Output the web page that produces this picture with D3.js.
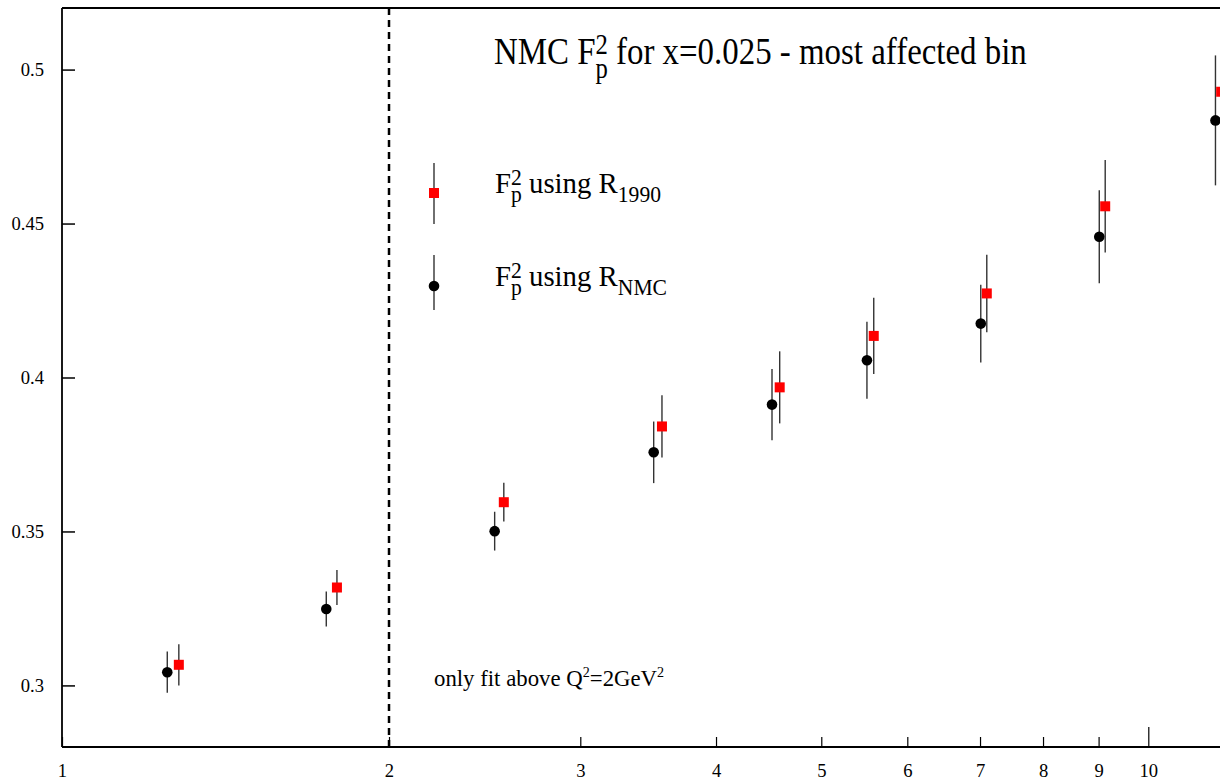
<!DOCTYPE html>
<html>
<head>
<meta charset="utf-8">
<script src="https://cdn.jsdelivr.net/npm/d3@7"></script>
<style>
  body { margin: 0; background: #fff; }
  svg text { font-family: "Liberation Serif", "Times New Roman", serif; fill: #000; white-space: pre; }
</style>
</head>
<body>
<svg id="chart" width="1220" height="780"></svg>
<script>
// NMC F2p at x=0.025, Q^2 in GeV^2
const q2NMC   = [1.250, 1.751, 2.502, 3.505, 4.504, 5.508, 7.011, 9.013, 11.53];
const f2NMC   = [0.3043, 0.3248, 0.3501, 0.3757, 0.3912, 0.4056, 0.4175, 0.4457, 0.4835];
const errNMC  = [0.0067, 0.0057, 0.0063, 0.0100, 0.0116, 0.0125, 0.0126, 0.0151, 0.0211];

const q2R1990  = [1.281, 1.791, 2.551, 3.567, 4.578, 5.588, 7.101, 9.127, 11.67];
const f2R1990  = [0.3067, 0.3318, 0.3595, 0.3841, 0.3968, 0.4135, 0.4273, 0.4556, 0.4928];
const errR1990 = [0.0067, 0.0057, 0.0063, 0.0101, 0.0117, 0.0124, 0.0126, 0.0150, 0.0210];

const xTicks = [1, 2, 3, 4, 5, 6, 7, 8, 9, 10];
const yTicks = [0.3, 0.35, 0.4, 0.45, 0.5];
const cutQ2 = 2;

const mLeft = 62, mTop = 8, mBottom = 747, W = 1220;
const serif = '"Liberation Serif", "Times New Roman", serif';

const svg = d3.select("#chart");

// log scale, 1..10 spans one decade; data runs past the right edge
const x = d3.scaleLog().domain([1, 10]).range([mLeft, 1148.3]);
const y = d3.scaleLinear().domain([0.28, 0.52]).range([mBottom, mTop]);

// frame
svg.append("line").attr("x1", mLeft).attr("x2", W).attr("y1", mTop).attr("y2", mTop)
    .attr("stroke", "#000").attr("stroke-width", 1.8);
svg.append("line").attr("x1", mLeft).attr("x2", W).attr("y1", mBottom).attr("y2", mBottom)
    .attr("stroke", "#000").attr("stroke-width", 1.8);
svg.append("line").attr("x1", mLeft).attr("x2", mLeft).attr("y1", mTop).attr("y2", mBottom)
    .attr("stroke", "#000").attr("stroke-width", 1.8);

// y axis, ticks pointing in
const yAxis = svg.append("g").attr("transform", `translate(${mLeft},0)`)
    .call(d3.axisLeft(y).tickValues(yTicks).tickFormat(d3.format("")).tickSizeInner(-13).tickSizeOuter(0).tickPadding(18));
yAxis.attr("font-family", serif);
yAxis.select(".domain").remove();
yAxis.selectAll(".tick line").attr("stroke", "#000").attr("stroke-width", 1.5);
yAxis.selectAll(".tick text").attr("font-size", 18.6).style("font-family", serif);

// x axis
const xAxis = svg.append("g").attr("transform", `translate(0,${mBottom})`)
    .call(d3.axisBottom(x).tickValues(xTicks).tickFormat(d3.format("d")).tickSizeInner(-10).tickSizeOuter(0));
xAxis.attr("font-family", serif);
xAxis.select(".domain").remove();
xAxis.selectAll(".tick line").attr("stroke", "#000").attr("stroke-width", 1.2)
    .attr("y2", d => d === 10 ? -20 : -10);
xAxis.selectAll(".tick text").attr("font-size", 18.6).style("font-family", serif)
    .attr("y", 30).attr("dy", null);

// Q^2 = 2 cut
svg.append("line").attr("x1", x(cutQ2)).attr("x2", x(cutQ2)).attr("y1", mTop).attr("y2", mBottom)
    .attr("stroke", "#000").attr("stroke-width", 2.5).attr("stroke-dasharray", "7,5");

// one text element, sub/superscripts stacked with tspans
function richText(sel, x0, y0, size, parts, sx, supDy, subDy, small) {
    const t = sel.append("text")
        .attr("transform", `translate(${x0},${y0}) scale(${sx},1)`)
        .attr("font-size", size);
    let base = 0, pad = 0;
    parts.forEach(p => {
        if (typeof p === "string") {
            t.append("tspan").attr("dx", pad).attr("dy", -base).text(p);
            base = 0; pad = 0;
        } else {
            let wSup = 0, wSub = 0;
            if (p.sup) {
                const s = t.append("tspan").attr("dy", -supDy * size - base)
                    .attr("font-size", size * small).text(p.sup);
                base = -supDy * size;
                wSup = s.node().getComputedTextLength();
            }
            if (p.sub) {
                const s = t.append("tspan").attr("dx", -wSup).attr("dy", subDy * size - base)
                    .attr("font-size", size * small).text(p.sub);
                base = subDy * size;
                wSub = s.node().getComputedTextLength();
                pad = Math.max(0, wSup - wSub);
            }
        }
    });
    return t;
}

richText(svg, 494, 64, 38, ["NMC F", {sup: "2", sub: "p"}, " for x=0.025 - most affected bin"], 0.866, 0.26, 0.36, 0.75);
richText(svg, 495, 193, 30, ["F", {sup: "2", sub: "p"}, " using R", {sub: "1990"}], 0.96, 0.28, 0.3, 0.75);
richText(svg, 495, 286, 30, ["F", {sup: "2", sub: "p"}, " using R", {sub: "NMC"}], 0.96, 0.28, 0.3, 0.75);
richText(svg, 434, 686, 23.5, ["only fit above Q", {sup: "2"}, "=2GeV", {sup: "2"}], 0.97, 0.4, 0.3, 0.62);

// data
const nmc = q2NMC.map((q, i) => ({q: q, v: f2NMC[i], e: errNMC[i]}));
const r90 = q2R1990.map((q, i) => ({q: q, v: f2R1990[i], e: errR1990[i]}));

function errBars(data) {
    svg.append("g").selectAll("line").data(data).join("line")
        .attr("x1", d => x(d.q)).attr("x2", d => x(d.q))
        .attr("y1", d => y(d.v + d.e)).attr("y2", d => y(d.v - d.e))
        .attr("stroke", "#333").attr("stroke-width", 1.4);
}
errBars(nmc);
errBars(r90);

svg.append("g").selectAll("circle").data(nmc).join("circle")
    .attr("cx", d => x(d.q)).attr("cy", d => y(d.v)).attr("r", 5.3).attr("fill", "#000");
svg.append("g").selectAll("rect").data(r90).join("rect")
    .attr("x", d => x(d.q) - 5).attr("y", d => y(d.v) - 5).attr("width", 10).attr("height", 10)
    .attr("fill", "#ff0000");

// legend markers
svg.append("line").attr("x1", 434).attr("x2", 434).attr("y1", 163).attr("y2", 224)
    .attr("stroke", "#333").attr("stroke-width", 1.4);
svg.append("rect").attr("x", 429).attr("y", 188).attr("width", 10).attr("height", 10).attr("fill", "#ff0000");
svg.append("line").attr("x1", 434).attr("x2", 434).attr("y1", 255).attr("y2", 310)
    .attr("stroke", "#333").attr("stroke-width", 1.4);
svg.append("circle").attr("cx", 434).attr("cy", 286).attr("r", 5.3).attr("fill", "#000");
</script>
</body>
</html>
